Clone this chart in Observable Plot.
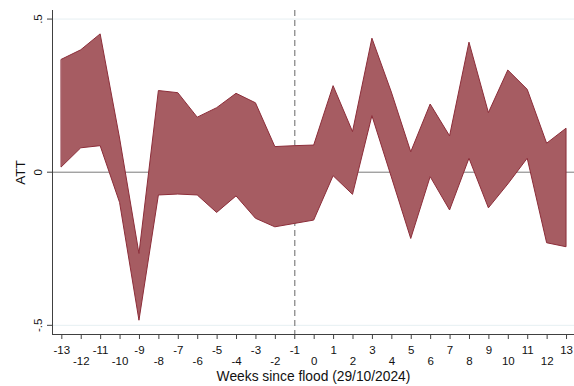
<!DOCTYPE html>
<html>
<head>
<meta charset="utf-8">
<script src="https://cdn.jsdelivr.net/npm/d3@7"></script>
<script src="https://cdn.jsdelivr.net/npm/@observablehq/plot@0.6"></script>
<style>
  html, body { margin: 0; padding: 0; background: #fff; }
</style>
</head>
<body>
<div id="chart"></div>
<script>
const weeks = d3.range(-13, 14);
const upper = [0.367, 0.398, 0.450, 0.110, -0.267, 0.265, 0.258, 0.178, 0.209, 0.256, 0.225, 0.082, 0.085, 0.087, 0.281, 0.131, 0.436, 0.260, 0.065, 0.221, 0.117, 0.423, 0.193, 0.332, 0.269, 0.093, 0.142];
const lower = [0.016, 0.078, 0.085, -0.100, -0.485, -0.076, -0.073, -0.076, -0.133, -0.079, -0.152, -0.180, -0.169, -0.158, -0.013, -0.074, 0.183, -0.017, -0.218, -0.016, -0.125, 0.044, -0.118, -0.040, 0.044, -0.232, -0.245];
const yTicks = [-0.5, 0, 0.5];
const yTickLabels = ["-.5", "0", ".5"];
const oddTicks = weeks.filter(d => Math.abs(d) % 2 === 1);
const evenTicks = weeks.filter(d => d % 2 === 0);
const eventWeek = -1;
const xTitle = "Weeks since flood (29/10/2024)";
const yTitle = "ATT";

const data = weeks.map((w, i) => ({week: w, hi: upper[i], lo: lower[i]}));

const chart = Plot.plot({
  width: 574,
  height: 386,
  marginLeft: 52,
  marginRight: 0,
  marginTop: 10,
  marginBottom: 52,
  style: {fontFamily: "'Liberation Sans', Arial, Helvetica, sans-serif", color: "#111", background: "#fff"},
  x: {domain: [-13.48, 13.41], axis: null},
  y: {domain: [-0.530, 0.528], axis: null},
  marks: [
    Plot.ruleY([-0.5, 0.5], {stroke: "#e6eff2", strokeWidth: 1}),
    Plot.ruleY([0], {stroke: "#7a7a7a", strokeWidth: 1}),
    Plot.ruleX([eventWeek], {stroke: "#8a8a8a", strokeWidth: 1.3, strokeDasharray: "6,4"}),
    Plot.areaY(data, {x: "week", y1: "lo", y2: "hi", fill: "#a65c62", stroke: "#8c2d39", strokeWidth: 1}),
    Plot.frame({anchor: "left", stroke: "#404040"}),
    Plot.frame({anchor: "bottom", stroke: "#404040"}),
    Plot.axisX({ticks: weeks, tickSize: 5, tickFormat: () => "", stroke: "#404040", label: null}),
    Plot.axisX({ticks: oddTicks, tickSize: 0, tickPadding: 11, fontSize: 11.5, tickFormat: d => String(d), label: null}),
    Plot.axisX({ticks: evenTicks, tickSize: 0, tickPadding: 22.5, fontSize: 11.5, tickFormat: d => String(d), label: null}),
    Plot.axisY({ticks: yTicks, tickSize: 5, tickFormat: () => "", stroke: "#404040", label: null}),
    Plot.text(yTicks, {y: d => d, text: (d, i) => yTickLabels[i], frameAnchor: "left", dx: -11, rotate: -90, lineAnchor: "bottom", textAnchor: "middle", fontSize: 11.5, fill: "#111"}),
    Plot.text([yTitle], {frameAnchor: "left", dx: -28, rotate: -90, lineAnchor: "bottom", textAnchor: "middle", fontSize: 13.5, fill: "#111"}),
    Plot.text([xTitle], {frameAnchor: "bottom", dy: 37, lineAnchor: "top", textAnchor: "middle", fontSize: 13.8, fill: "#111"})
  ]
});
document.getElementById("chart").appendChild(chart);
</script>
</body>
</html>
